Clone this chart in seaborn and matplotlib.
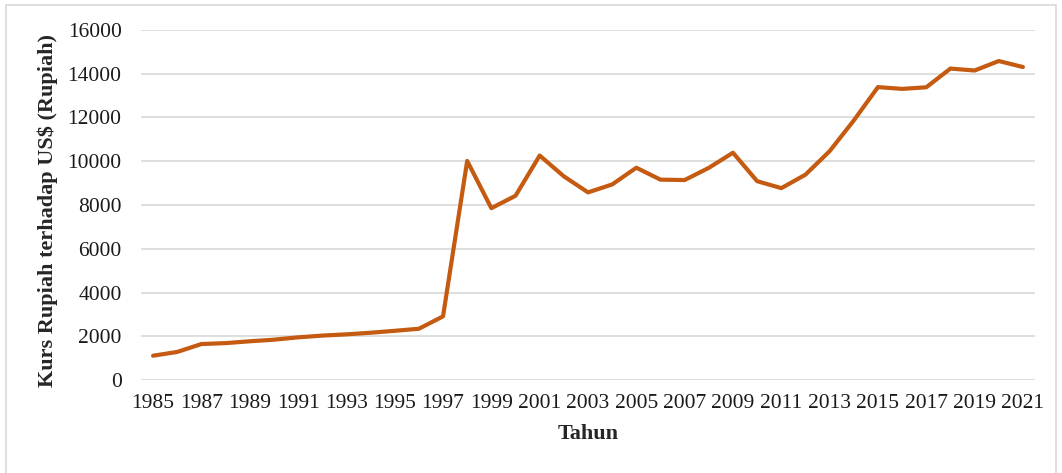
import matplotlib
matplotlib.use("Agg")
import matplotlib.pyplot as plt
import seaborn as sns
import pandas as pd
from matplotlib.patches import Rectangle

# --- data ---
years = list(range(1985, 2022))
kurs = [1110, 1283, 1644, 1686, 1770, 1843, 1950, 2030, 2087, 2161,
        2249, 2342, 2909, 10014, 7855, 8422, 10261, 9311, 8577, 8939,
        9705, 9159, 9141, 9699, 10390, 9090, 8770, 9387, 10461, 11865,
        13389, 13308, 13381, 14237, 14148, 14582, 14308]
tick_years = list(range(1985, 2022, 2))
y_ticks = list(range(0, 16001, 2000))

df = pd.DataFrame({"Tahun": years, "Kurs": kurs})

sns.set_theme(style="white")
plt.rcParams["font.family"] = ["Liberation Serif", "DejaVu Serif"]

fig = plt.figure(figsize=(10.62, 4.73), dpi=100)
ax = fig.add_axes([141 / 1062, 1 - 380 / 473, (1035 - 141) / 1062, 350 / 473])

sns.lineplot(data=df, x="Tahun", y="Kurs", ax=ax, color="#C55A11", linewidth=3)

ax.set_xlim(1984.5, 2021.5)
ax.set_ylim(0, 16000)
ax.set_xticks(tick_years)
ax.set_yticks(y_ticks)
ax.tick_params(axis="both", length=0, labelsize=15.5, colors="#1a1a1a")
ax.tick_params(axis="y", pad=14)
ax.tick_params(axis="x", pad=10)
ax.grid(axis="y", color="#D9D9D9", linewidth=1.2)
ax.set_axisbelow(True)
for s in ax.spines.values():
    s.set_visible(False)

ax.set_xlabel("Tahun", fontsize=16, fontweight="bold", labelpad=8)
ax.set_ylabel("Kurs Rupiah terhadap US$ (Rupiah)", fontsize=16, fontweight="bold")
ax.yaxis.set_label_coords(-0.093, 0.485)

# light frame around the chart
fig.patches.append(Rectangle((6 / 1062, -0.02), 1050 / 1062, 1 - 5 / 473 + 0.02,
                             transform=fig.transFigure, fill=False,
                             edgecolor="#D9D9D9", linewidth=1.2))

fig.savefig("out.png", dpi=100)
